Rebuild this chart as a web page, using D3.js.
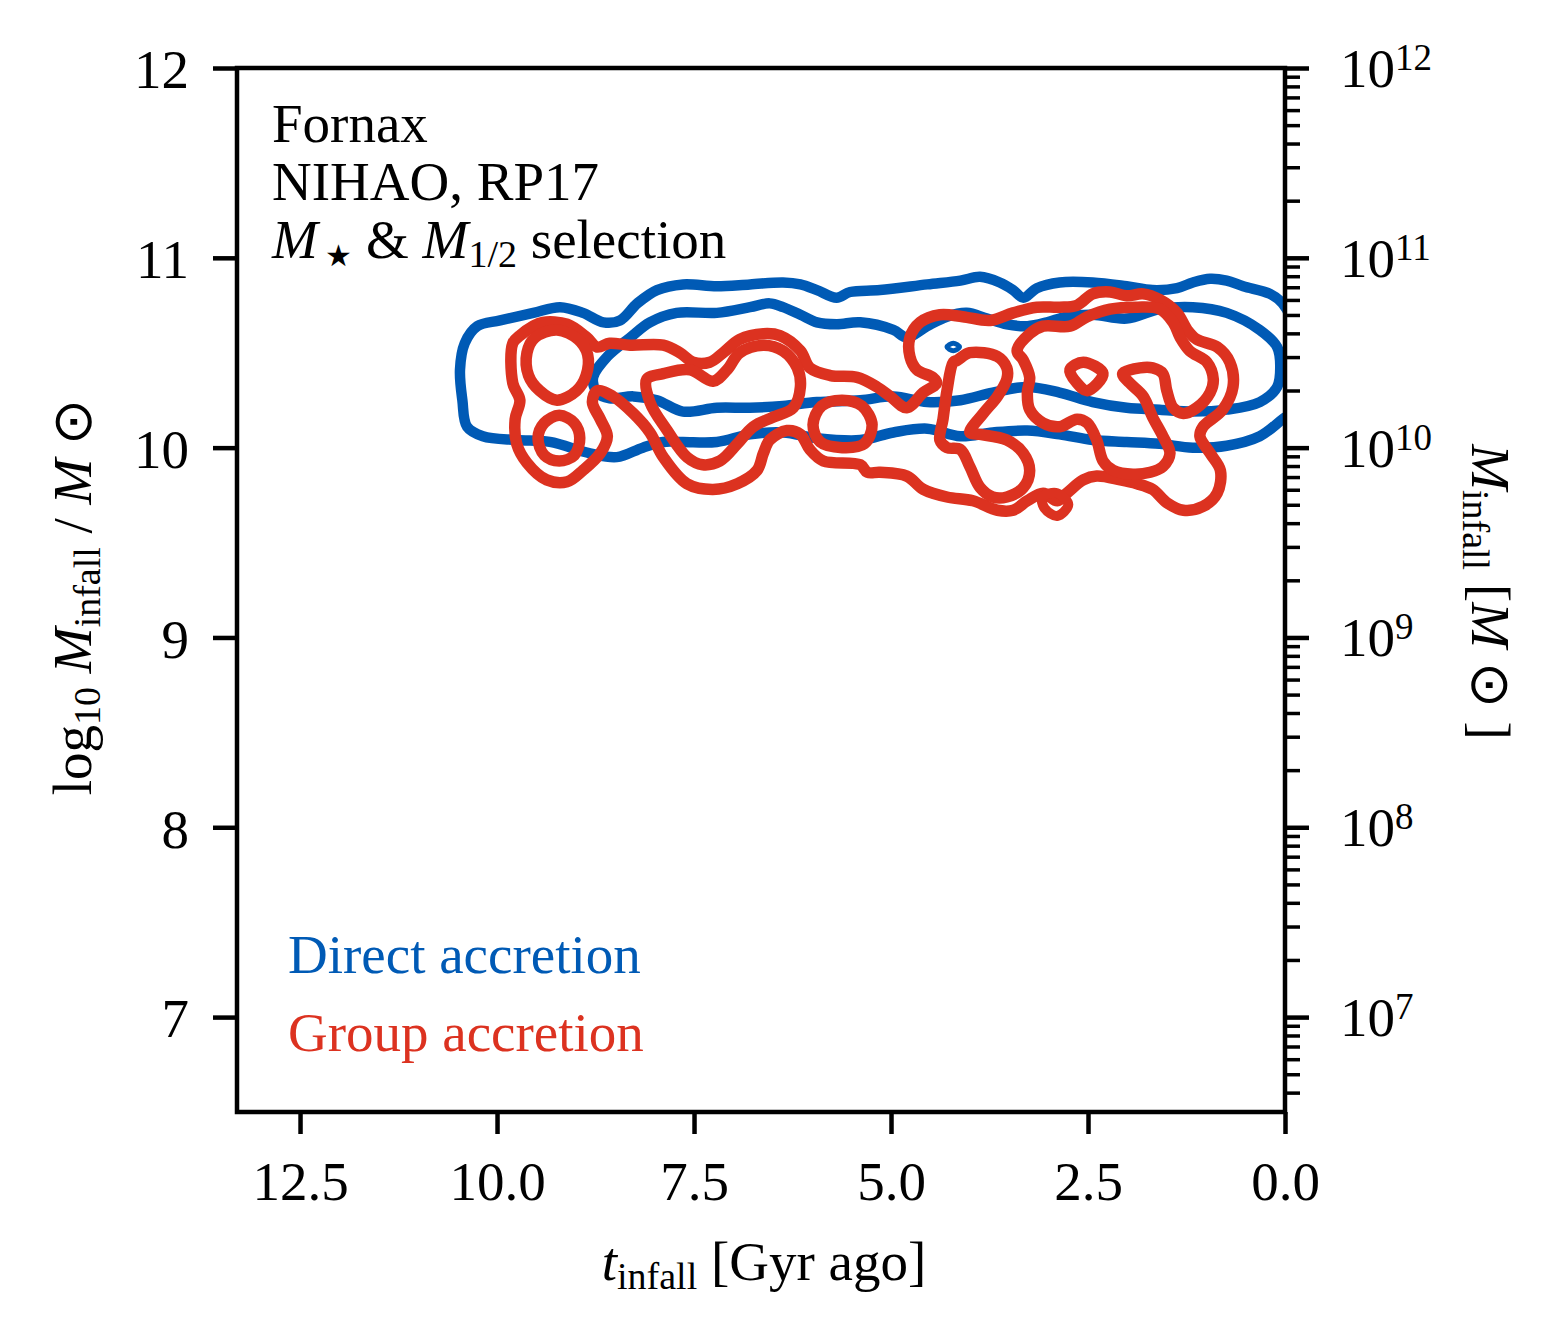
<!DOCTYPE html>
<html>
<head>
<meta charset="utf-8">
<script src="https://cdn.jsdelivr.net/npm/d3@7"></script>
<style>
  body { margin: 0; background: #fff; }
  text { font-family: "Liberation Serif", "Times New Roman", serif; }
</style>
</head>
<body>
<div id="cntr"></div>
<script>
const W = 1560, H = 1344;

// axis ticks
const yTicks = [7, 8, 9, 10, 11, 12];
const xTicks = [12.5, 10.0, 7.5, 5.0, 2.5, 0.0];
const rightExps = [7, 8, 9, 10, 11, 12];

// contour lines, [t_infall (Gyr ago), log10 M_infall]
const directOuter = [
  [10.38,10.11],[10.44,10.25],[10.47,10.41],[10.41,10.55],[10.25,10.64],[9.96,10.67],[9.54,10.71],
  [9.20,10.74],[8.91,10.71],[8.65,10.66],[8.44,10.67],[8.22,10.76],[7.97,10.83],[7.64,10.86],
  [7.21,10.85],[6.79,10.86],[6.37,10.87],[6.15,10.86],[5.94,10.83],[5.69,10.79],[5.52,10.82],
  [5.14,10.83],[4.54,10.86],[4.12,10.88],[3.87,10.90],[3.62,10.87],[3.45,10.83],[3.32,10.79],
  [3.15,10.84],[2.86,10.87],[2.44,10.87],[2.01,10.85],[1.68,10.83],[1.37,10.84],[1.17,10.87],
  [0.95,10.89],[0.74,10.88],[0.53,10.85],[0.19,10.81],[0.03,10.76],[-0.13,10.62],[-0.19,10.41],
  [-0.13,10.20],[0.03,10.15],[0.32,10.06],[0.74,10.01],[1.17,10.00],[1.59,10.02],[2.01,10.03],
  [2.44,10.04],[2.86,10.07],[3.27,10.09],[3.71,10.08],[4.12,10.06],[4.54,10.10],[4.97,10.08],
  [5.39,10.04],[5.94,10.05],[6.37,10.08],[6.79,10.07],[7.21,10.03],[7.64,10.03],[7.89,10.03],
  [8.15,10.00],[8.48,9.95],[8.82,9.97],[9.33,10.03],[9.75,10.04],[10.18,10.06]
];
const directInner = [
  [8.78,10.37],[8.60,10.48],[8.31,10.58],[8.06,10.66],[7.72,10.71],[7.21,10.71],[6.79,10.74],
  [6.54,10.76],[6.37,10.74],[6.15,10.70],[5.94,10.66],[5.69,10.65],[5.39,10.66],[4.97,10.62],
  [4.80,10.58],[4.54,10.64],[4.29,10.69],[4.04,10.71],[3.78,10.68],[3.53,10.65],[3.27,10.64],
  [3.02,10.66],[2.77,10.69],[2.44,10.70],[2.01,10.68],[1.59,10.73],[1.17,10.74],[0.74,10.71],
  [0.32,10.62],[0.10,10.53],[0.06,10.43],[0.10,10.32],[0.32,10.24],[0.74,10.20],[1.17,10.19],
  [1.59,10.20],[2.01,10.21],[2.44,10.24],[2.86,10.29],[3.27,10.32],[3.71,10.29],[4.12,10.25],
  [4.54,10.24],[4.97,10.27],[5.39,10.25],[5.94,10.24],[6.37,10.22],[6.79,10.21],[7.21,10.21],
  [7.64,10.19],[7.97,10.25],[8.27,10.27],[8.57,10.26],[8.73,10.29]
];
const directSpeck = [[4.29,10.53],[4.21,10.55],[4.13,10.53],[4.21,10.51]];

const groupOuter = [
  [9.80,10.55],[9.71,10.59],[9.54,10.64],[9.42,10.66],[9.11,10.65],[8.86,10.58],[8.73,10.53],
  [8.57,10.55],[8.31,10.54],[7.89,10.54],[7.68,10.50],[7.51,10.45],[7.30,10.45],[7.13,10.50],
  [6.92,10.57],[6.62,10.60],[6.41,10.59],[6.15,10.51],[6.03,10.42],[5.77,10.38],[5.43,10.37],
  [5.18,10.32],[5.01,10.27],[4.80,10.21],[4.59,10.29],[4.42,10.34],[4.47,10.37],[4.67,10.41],
  [4.76,10.48],[4.76,10.58],[4.63,10.66],[4.38,10.70],[4.09,10.69],[3.74,10.67],[3.45,10.71],
  [3.15,10.74],[2.86,10.74],[2.64,10.75],[2.44,10.81],[2.22,10.82],[2.01,10.80],[1.80,10.81],
  [1.59,10.78],[1.37,10.71],[1.24,10.62],[1.12,10.57],[0.86,10.53],[0.70,10.45],[0.66,10.32],
  [0.79,10.20],[1.04,10.11],[1.08,10.06],[0.95,9.97],[0.82,9.88],[0.86,9.76],[1.04,9.69],
  [1.29,9.67],[1.50,9.71],[1.68,9.78],[1.88,9.81],[2.09,9.83],[2.39,9.85],[2.56,9.83],
  [2.77,9.76],[2.89,9.72],[3.07,9.76],[3.27,9.72],[3.45,9.67],[3.65,9.67],[3.96,9.72],
  [4.29,9.74],[4.59,9.78],[4.80,9.85],[5.14,9.87],[5.30,9.87],[5.39,9.91],[5.86,9.93],
  [6.03,9.99],[6.15,10.07],[6.32,10.09],[6.54,10.04],[6.62,9.97],[6.70,9.88],[6.95,9.81],
  [7.26,9.78],[7.59,9.81],[7.89,9.95],[8.06,10.08],[8.27,10.18],[8.53,10.27],[8.73,10.30],
  [8.79,10.24],[8.69,10.15],[8.60,10.06],[8.69,9.97],[8.91,9.88],[9.11,9.82],[9.37,9.83],
  [9.62,9.92],[9.75,10.02],[9.77,10.15],[9.71,10.25],[9.80,10.34]
];
const groupUpperLeft = [
  [9.52,10.58],[9.24,10.62],[8.97,10.57],[8.85,10.49],[8.87,10.38],[8.99,10.30],[9.24,10.25],
  [9.46,10.30],[9.60,10.38],[9.62,10.50]
];
const groupLowerLeft = [
  [9.21,10.17],[9.02,10.13],[8.95,10.05],[9.02,9.96],[9.21,9.93],[9.40,9.96],[9.48,10.05],[9.40,10.13]
];
const groupHeart = [
  [8.10,10.36],[7.89,10.39],[7.55,10.41],[7.26,10.35],[7.08,10.41],[6.92,10.50],[6.62,10.54],
  [6.37,10.51],[6.19,10.42],[6.15,10.32],[6.24,10.21],[6.50,10.16],[6.75,10.11],[6.95,10.02],
  [7.17,9.93],[7.39,9.91],[7.59,9.95],[7.84,10.09],[8.06,10.24]
];
const groupRing = [
  [5.62,10.25],[5.37,10.22],[5.24,10.12],[5.34,10.02],[5.62,10.00],[5.90,10.03],[5.99,10.12],[5.88,10.22]
];
const groupMid = [
  [4.21,10.45],[4.29,10.30],[4.34,10.15],[4.38,10.04],[4.29,10.00],[4.12,9.99],[4.00,9.90],
  [3.87,9.79],[3.71,9.74],[3.53,9.74],[3.32,9.79],[3.24,9.88],[3.32,9.97],[3.53,10.04],
  [3.87,10.07],[4.00,10.08],[3.83,10.18],[3.65,10.27],[3.53,10.36],[3.53,10.42],[3.65,10.48],
  [4.00,10.50],[4.16,10.46]
];
const groupRight = [
  [3.40,10.51],[3.24,10.60],[3.07,10.64],[2.73,10.64],[2.51,10.69],[2.22,10.73],[1.88,10.74],
  [1.59,10.73],[1.42,10.66],[1.33,10.58],[1.21,10.51],[0.99,10.45],[0.91,10.36],[0.95,10.29],
  [1.12,10.21],[1.29,10.18],[1.42,10.21],[1.50,10.30],[1.55,10.39],[1.68,10.42],[1.84,10.42],
  [2.06,10.39],[1.97,10.34],[1.80,10.27],[1.68,10.16],[1.55,10.06],[1.46,9.97],[1.55,9.90],
  [1.71,9.87],[1.93,9.86],[2.18,9.88],[2.31,9.93],[2.39,10.04],[2.51,10.13],[2.64,10.15],
  [2.86,10.11],[3.07,10.13],[3.24,10.20],[3.27,10.29],[3.24,10.37],[3.32,10.46]
];
const groupTriangle = [[2.73,10.41],[2.56,10.45],[2.31,10.39],[2.51,10.30],[2.64,10.34]];
const groupDiamond = [[3.08,9.74],[2.89,9.76],[2.75,9.70],[2.89,9.64],[3.05,9.68]];

const BLUE = "#005AB5", RED = "#DC3220";

const svg = d3.select("#cntr")
    .append("svg")
    .attr("width", W)
    .attr("height", H)
    .style("background", "#fff");

const x = d3.scaleLinear().domain([13.3, 0]).range([237, 1285]);
const y = d3.scaleLinear().domain([6.5, 12]).range([1112, 68]);
const yMass = d3.scaleLog().domain([Math.pow(10, 6.5), 1e12]).range([1112, 68]);

svg.append("clipPath").attr("id", "plotclip")
  .append("rect")
    .attr("x", x(13.3)).attr("y", y(12))
    .attr("width", x(0) - x(13.3)).attr("height", y(6.5) - y(12));

const line = d3.line()
    .x(d => x(d[0]))
    .y(d => y(d[1]))
    .curve(d3.curveCatmullRomClosed.alpha(0.5));

const contours = [
  { pts: directOuter, color: BLUE, w: 10.5 },
  { pts: directInner, color: BLUE, w: 10.5 },
  { pts: directSpeck, color: BLUE, w: 5 },
  { pts: groupOuter, color: RED, w: 11.5 },
  { pts: groupUpperLeft, color: RED, w: 11.5 },
  { pts: groupLowerLeft, color: RED, w: 11.5 },
  { pts: groupHeart, color: RED, w: 11.5 },
  { pts: groupRing, color: RED, w: 11.5 },
  { pts: groupMid, color: RED, w: 11.5 },
  { pts: groupRight, color: RED, w: 11.5 },
  { pts: groupTriangle, color: RED, w: 11.5 },
  { pts: groupDiamond, color: RED, w: 10 }
];

svg.append("g")
    .attr("clip-path", "url(#plotclip)")
  .selectAll("path")
  .data(contours)
  .join("path")
    .attr("d", d => line(d.pts))
    .attr("fill", "none")
    .attr("stroke", d => d.color)
    .attr("stroke-width", d => d.w)
    .attr("stroke-linejoin", "round");

const FS = 55, SUB = 38;

// axes
function styleAxis(g) {
    g.select(".domain").remove();
    g.selectAll(".tick line").attr("stroke", "#000").attr("stroke-width", 4.5);
    g.selectAll(".tick text")
        .attr("fill", "#000")
        .style("font-size", FS + "px")
        .style("font-family", "'Liberation Serif', 'Times New Roman', serif");
}

svg.append("g")
    .attr("transform", `translate(${x(13.3)},0)`)
    .call(d3.axisLeft(y).tickValues(yTicks).tickSize(24).tickPadding(24).tickFormat(d3.format("d")))
    .call(styleAxis)
    .call(g => g.selectAll(".tick text").attr("dy", "0.36em"));

svg.append("g")
    .attr("transform", `translate(0,${y(6.5)})`)
    .call(d3.axisBottom(x).tickValues(xTicks).tickSize(22).tickFormat(d3.format(".1f")))
    .call(styleAxis)
    .call(g => g.selectAll(".tick text").attr("dy", null).attr("y", 88));

// right log axis: minor then major ticks
const minorVals = [];
for (let k = 6; k <= 11; k++) {
    for (let m = 2; m <= 9; m++) {
        const v = m * Math.pow(10, k);
        if (v >= Math.pow(10, 6.5) && v <= 1e12) minorVals.push(v);
    }
}
svg.append("g")
    .attr("transform", `translate(${x(0)},0)`)
    .call(d3.axisRight(yMass).tickValues(minorVals).tickSize(15).tickFormat(""))
    .call(styleAxis)
    .call(g => g.selectAll(".tick line").attr("stroke-width", 3.5));

svg.append("g")
    .attr("transform", `translate(${x(0)},0)`)
    .call(d3.axisRight(yMass).tickValues(rightExps.map(e => Math.pow(10, e))).tickSize(24).tickFormat(""))
    .call(styleAxis);

const rLabels = svg.append("g")
  .selectAll("text")
  .data(rightExps)
  .join("text")
    .attr("x", x(0) + 55)
    .attr("y", d => yMass(Math.pow(10, d)) + 19)
    .style("font-size", FS + "px")
    .attr("fill", "#000");
rLabels.append("tspan").text("10");
rLabels.append("tspan").attr("dy", -17).style("font-size", "37px").text(d => d);

// frame
svg.append("rect")
    .attr("x", x(13.3)).attr("y", y(12))
    .attr("width", x(0) - x(13.3)).attr("height", y(6.5) - y(12))
    .attr("fill", "none").attr("stroke", "#000").attr("stroke-width", 4.5);

// rich text helper: parts with optional italic / sub / size
function rich(textSel, parts) {
    let shift = 0;
    parts.forEach(p => {
        const s = p.shift || 0;
        const t = textSel.append("tspan").text(p.t);
        if (s - shift !== 0) t.attr("dy", s - shift);
        if (p.size) t.style("font-size", p.size + "px");
        if (p.italic) t.style("font-style", "italic");
        shift = s;
    });
}

// annotation block
const note = svg.append("g").style("font-size", FS + "px");
note.append("text").attr("x", 272).attr("y", 142).text("Fornax");
note.append("text").attr("x", 272).attr("y", 200).text("NIHAO, RP17");
rich(note.append("text").attr("x", 272).attr("y", 258), [
    { t: "M", italic: true },
    { t: " \u2605", size: 30, shift: 8 },
    { t: "  & " },
    { t: "M", italic: true },
    { t: "1/2", size: SUB, shift: 9 },
    { t: "  selection" }
]);

// legend texts
svg.append("text").attr("x", 288).attr("y", 973)
    .style("font-size", FS + "px").attr("fill", BLUE).text("Direct accretion");
svg.append("text").attr("x", 288).attr("y", 1051)
    .style("font-size", FS + "px").attr("fill", RED).text("Group accretion");

// axis titles
const xTitle = svg.append("text")
    .attr("x", (x(13.3) + x(0)) / 2 + 3).attr("y", 1280)
    .attr("text-anchor", "middle").style("font-size", FS + "px");
rich(xTitle, [
    { t: "t", italic: true },
    { t: "infall", size: SUB, shift: 9 },
    { t: " [Gyr ago]" }
]);

const yTitle = svg.append("text")
    .attr("transform", "translate(91,597) rotate(-90)")
    .attr("text-anchor", "middle").style("font-size", FS + "px");
rich(yTitle, [
    { t: "log" },
    { t: "10", size: SUB, shift: 9 },
    { t: " " },
    { t: "M", italic: true },
    { t: "infall", size: SUB, shift: 9 },
    { t: " / " },
    { t: "M", italic: true },
    { t: " \u2299" }
]);

const y2Title = svg.append("text")
    .attr("transform", "translate(1472,592) rotate(90)")
    .attr("text-anchor", "middle").style("font-size", FS + "px");
rich(y2Title, [
    { t: "M", italic: true },
    { t: "infall", size: SUB, shift: 9 },
    { t: " [" },
    { t: "M", italic: true },
    { t: " \u2299 ]" }
]);
</script>
</body>
</html>
